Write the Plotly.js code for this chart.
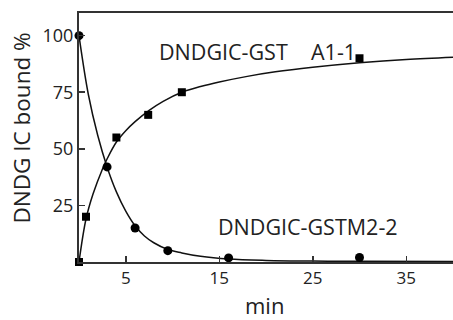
<!DOCTYPE html>
<html>
<head>
<meta charset="utf-8">
<script src="https://cdn.plot.ly/plotly-3.0.1.min.js"></script>
<style>html,body{margin:0;padding:0;background:#fff;}#chart{width:453px;height:320px;}</style>
</head>
<body>
<div id="chart"></div>
<script>
// Measured data points
const a1X = [0, 0.75, 4, 7.4, 11, 30];
const a1Y = [0, 20, 55, 65, 75, 90];
const m2X = [0, 3, 6, 9.5, 16, 30];
const m2Y = [100, 42, 15, 5, 1.8, 2];
// Fitted curves
const a1CurveX = [0, 0.75, 1.5, 2.5, 3, 4, 5, 6, 7.5, 9, 11, 13, 15, 18, 21, 25, 30, 35, 40];
const a1CurveY = [0, 19, 30, 41, 45.5, 53, 58, 62, 67, 71, 75, 77.5, 79.5, 82, 84, 86, 88, 89.5, 90.5];
const m2CurveX = [0, 1, 2, 3, 4, 5, 6, 7, 8, 9.5, 11, 13, 16, 20, 25, 30, 40];
const m2CurveY = [100, 74, 56, 42, 31, 22.5, 16, 11.5, 8.5, 5.5, 4, 2.5, 1.3, 0.7, 0.4, 0.3, 0.2];
const xTicks = [5, 15, 25, 35];
const yTicks = [25, 50, 75, 100];

const FONT = '"Open Sans", "Noto Sans", sans-serif';
const traces = [
  {x: a1CurveX, y: a1CurveY, mode: 'lines', line: {color: '#111', width: 1.5, shape: 'spline'}, hoverinfo: 'skip'},
  {x: m2CurveX, y: m2CurveY, mode: 'lines', line: {color: '#111', width: 1.5, shape: 'spline'}, hoverinfo: 'skip'},
  {x: a1X, y: a1Y, mode: 'markers', marker: {symbol: 'square', size: 8, color: '#000'}, cliponaxis: false},
  {x: m2X, y: m2Y, mode: 'markers', marker: {symbol: 'circle', size: 9, color: '#000'}, cliponaxis: false}
];
const layout = {
  width: 453, height: 320,
  margin: {l: 79, r: 0, t: 13, b: 58},
  paper_bgcolor: '#fff', plot_bgcolor: '#fff',
  showlegend: false,
  font: {family: FONT, color: '#222', size: 17},
  xaxis: {
    range: [0, 40], tickvals: xTicks, ticks: 'inside', ticklen: 6, tickwidth: 1.5, tickcolor: '#333',
    showline: true, linecolor: '#333', linewidth: 2, mirror: true, showgrid: false, zeroline: false,
    tickfont: {size: 17, family: FONT, color: '#222'}
  },
  yaxis: {
    range: [0, 110], tickvals: yTicks, ticks: 'inside', ticklen: 6, tickwidth: 1.5, tickcolor: '#333',
    showline: true, linecolor: '#333', linewidth: 2, showgrid: false, zeroline: false,
    tickfont: {size: 18, family: FONT, color: '#222'}
  },
  annotations: [
    {x: 8.3, y: 93.2, xref: 'x', yref: 'y', text: 'DNDGIC-GST', showarrow: false, xanchor: 'left', yanchor: 'middle', font: {size: 21.5, family: FONT, color: '#222'}},
    {x: 24.6, y: 93.2, xref: 'x', yref: 'y', text: 'A1-1', showarrow: false, xanchor: 'left', yanchor: 'middle', font: {size: 21.5, family: FONT, color: '#222'}},
    {x: 14.7, y: 15.8, xref: 'x', yref: 'y', text: 'DNDGIC-GSTM2-2', showarrow: false, xanchor: 'left', yanchor: 'middle', font: {size: 21.5, family: FONT, color: '#222'}},
    {x: -0.1524, y: 0.536, xref: 'paper', yref: 'paper', text: 'DNDG IC bound %', textangle: -90, showarrow: false, xanchor: 'center', yanchor: 'middle', font: {size: 22.5, family: FONT, color: '#222'}},
    {x: 0.495, y: -0.172, xref: 'paper', yref: 'paper', text: 'min', showarrow: false, xanchor: 'center', yanchor: 'middle', font: {size: 22, family: FONT, color: '#222'}}
  ]
};
Plotly.newPlot('chart', traces, layout, {staticPlot: true, displayModeBar: false});
</script>
</body>
</html>
